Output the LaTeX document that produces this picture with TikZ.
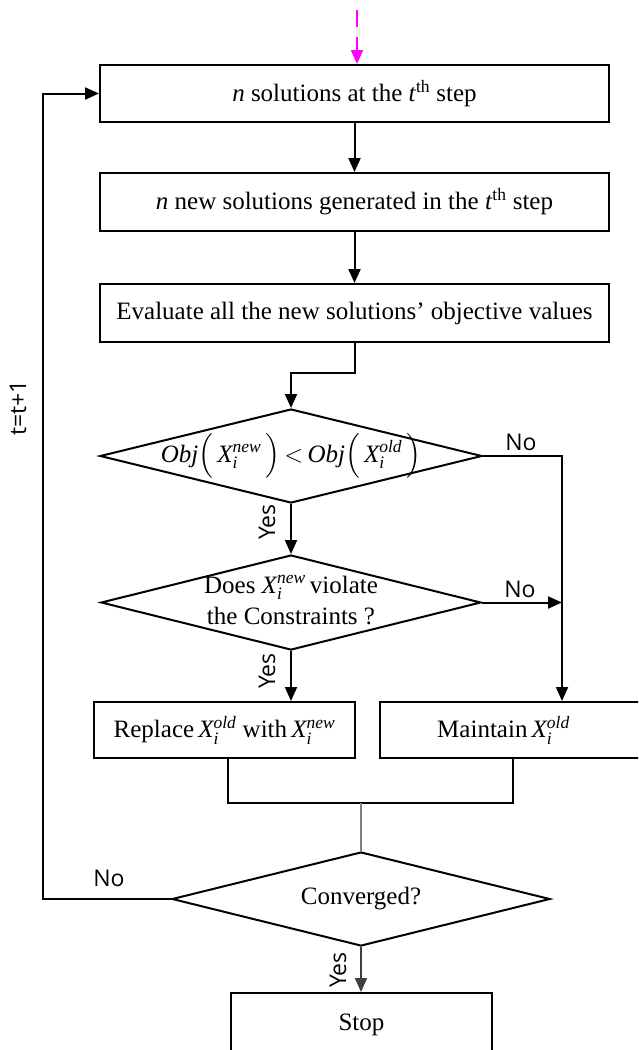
\documentclass[tikz,border=0pt]{standalone}
\usepackage{amsmath}
\usepackage{fontspec}
\setmainfont{Liberation Serif}
\newfontfamily\labfont{Open Sans}
\usetikzlibrary{arrows.meta,shapes.geometric}
\definecolor{mag}{RGB}{255,0,255}
\definecolor{lgray}{RGB}{128,128,128}
\definecolor{dgray}{RGB}{64,64,64}
\newcommand{\zbox}[1]{\makebox[0pt]{\raisebox{\dimexpr(\depth-\height)/2\relax}[0pt][0pt]{#1}}}
\newcommand{\Xsup}[1]{$\textit{X}^{\textit{#1}}_{\textit{i}}$}
\newcommand{\fs}{\fontsize{25}{31}\selectfont}
\begin{document}
\begin{tikzpicture}[x=1pt,y=-1pt,
  box/.style={draw,line width=2pt,rectangle,inner sep=0pt,font=\fs},
  dec/.style={draw,line width=2pt,diamond,inner sep=0pt,font=\fs},
  ln/.style={line width=2pt},
  arr/.style={line width=2pt,-{Triangle[length=14pt,width=12pt]}},
  lab/.style={font=\labfont\fontsize{23}{27}\selectfont,inner sep=0pt}]
\clip (0,0) rectangle (638,1050);
% boxes
\node[box,minimum width=509pt,minimum height=57pt] (s1) at (354.5,93.5) {\textit{n} solutions at the \textit{t}\textsuperscript{th} step};
\node[box,minimum width=509pt,minimum height=58pt] (s2) at (354.5,202) {\textit{n} new solutions generated in the \textit{t}\textsuperscript{th} step};
\node[box,minimum width=509pt,minimum height=58pt] (s3) at (354.5,313) {Evaluate all the new solutions’ objective values};
\node[dec,minimum width=382pt,minimum height=94pt] (d1) at (291,456) {\zbox{\textit{Obj}$\Bigl(\,$\Xsup{new}$\,\Bigr)\,{<}\,$\textit{Obj}$\Bigl(\,$\Xsup{old}$\,\Bigr)$}};
\node[dec,minimum width=380pt,minimum height=95pt] (d2) at (291,602.5) {\zbox{\begin{tabular}{@{}c@{}}Does \Xsup{new}\,violate\\the Constraints ?\end{tabular}}};
\node[box,minimum width=261pt,minimum height=56pt] (rep) at (224.5,730) {Replace\,\Xsup{old} with\,\Xsup{new}};
\node[box,minimum width=265pt,minimum height=56pt] (mnt) at (512.5,730) {Maintain\,\Xsup{old}\hspace*{18pt}};
\node[dec,minimum width=378pt,minimum height=94pt] (conv) at (361,899) {\zbox{Converged?}};
\node[box,minimum width=261pt,minimum height=64pt] (stop) at (361.5,1025) {Stop};
% helper coordinates
\coordinate (m0) at (357,10);
\coordinate (j1) at (291,373);
\coordinate (c1) at (562,456);
\coordinate (jl) at (228,803);
\coordinate (jr) at (513,803);
\coordinate (lp) at (43,899);
% connectors
\draw[mag,line width=2pt,dash pattern=on 17pt off 10pt on 60pt off 10pt,-{Triangle[length=14pt,width=12pt]}] (m0) -- (m0 |- s1.north);
\draw[arr] (s1.south) -- (s2.north);
\draw[arr] (s2.south) -- (s3.north);
\draw[arr] (s3.south) |- (j1) -- (d1.north);
\draw[arr] (d1.east) -- (c1) -- (c1 |- mnt.north);
\draw[arr] (d1.south) -- (d2.north);
\draw[arr] (d2.east) -- (d2.east -| c1);
\draw[arr] (d2.south) -- (d2.south |- rep.north);
\draw[ln] (rep.south -| jl) -- (jl) -- (jr) -- (mnt.south -| jr);
\draw[line width=1.3pt,lgray] (conv.north |- jl) -- (conv.north);
\draw[arr,dgray] (conv.south) -- (conv.south |- stop.north);
\draw[arr] (conv.west) -- (lp) |- (s1.west);
% labels
\node[lab] (no1) at (521,442) {No};
\node[lab] (no2) at (520,589) {No};
\node[lab,rotate=90] (yes1) at (267,522) {Yes};
\node[lab,rotate=90] (yes2) at (267,671) {Yes};
\node[lab] (no3) at (109,878) {No};
\node[lab,rotate=90] (yes3) at (338,970) {Yes};
\node[lab,rotate=90] (tt) at (18,408) {t=t+1};
\end{tikzpicture}
\end{document}
